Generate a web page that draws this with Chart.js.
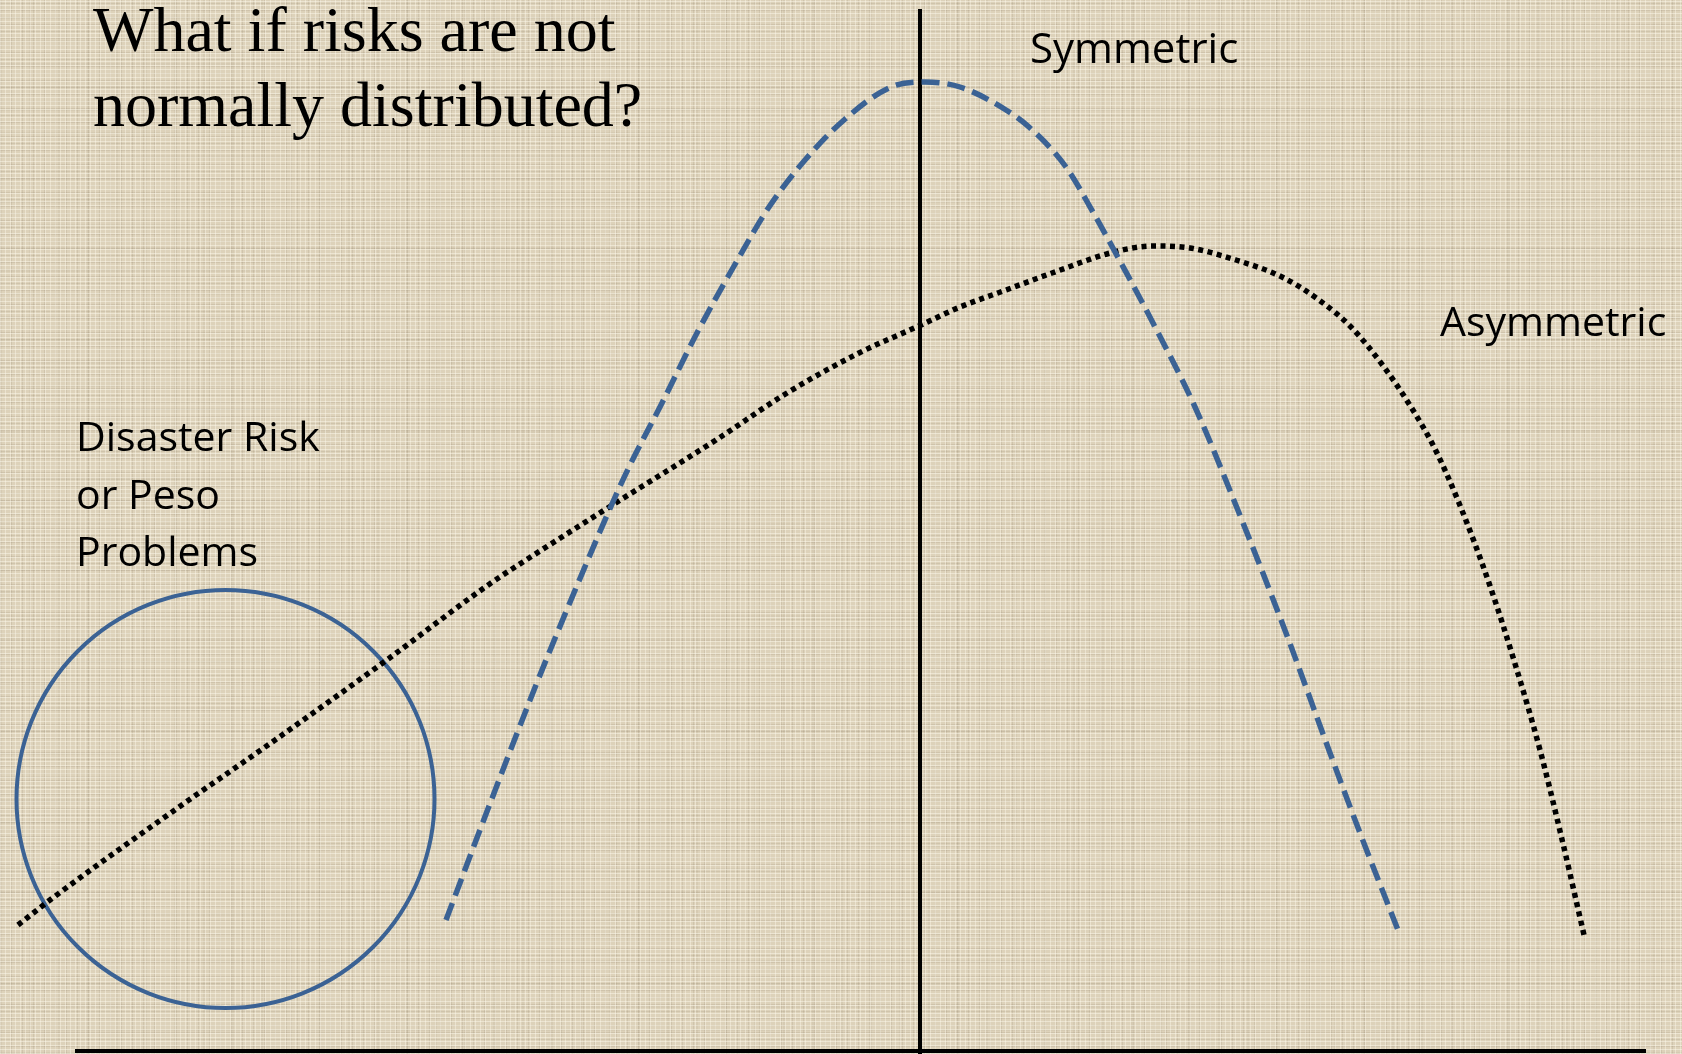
<!DOCTYPE html>
<html>
<head>
<meta charset="utf-8">
<script src="https://cdn.jsdelivr.net/npm/chart.js@4.4.1/dist/chart.umd.min.js"></script>
<style>
  html, body { margin: 0; padding: 0; overflow: hidden; }
  #stage {
    position: relative; width: 1682px; height: 1054px;
    background-color: #DDD2BA;
    background-image:
      repeating-linear-gradient(0deg, rgba(255,251,238,0.45) 0 1px, transparent 1px 4px),
      repeating-linear-gradient(90deg, rgba(255,251,238,0.40) 0 1px, transparent 1px 5px),
      repeating-linear-gradient(0deg, rgba(115,100,75,0.13) 0 1px, transparent 1px 7px),
      repeating-linear-gradient(90deg, rgba(115,100,75,0.13) 0 1px, transparent 1px 11px),
      repeating-linear-gradient(0deg, rgba(130,115,90,0.08) 0 2px, transparent 2px 23px),
      repeating-linear-gradient(90deg, rgba(130,115,90,0.08) 0 2px, transparent 2px 29px);
  }
  #chart { position: absolute; left: 0; top: 0; }
  .lbl { position: absolute; white-space: nowrap; color: #000; margin: 0; }
  .title { font-family: "Liberation Serif", "Times New Roman", serif; font-size: 64px; line-height: 75px; left: 93px; top: -8px; }
  .sans { font-family: "Open Sans", "Noto Sans", sans-serif; }
</style>
</head>
<body>
<div id="stage">
  <canvas id="chart" width="1682" height="1054"></canvas>
  <div class="lbl title">What if risks are not<br>normally distributed?</div>
  <div class="lbl sans" id="symLbl" style="font-size:42px; line-height:60px; left:1030px; top:17px;">Symmetric</div>
  <div class="lbl sans" id="asymLbl" style="font-size:41px; line-height:60px; left:1440px; top:290px;">Asymmetric</div>
  <div class="lbl sans" id="disLbl" style="font-size:41px; line-height:57.5px; left:76px; top:407px;">Disaster Risk<br>or Peso<br>Problems</div>
</div>
<script>
// ---- data (x = return, y = density, arbitrary units) ----
const symmetricX = [-4.74, -4.29, -3.84, -3.44, -3.08, -2.90, -2.58, -2.22, -1.865, -1.51, -1.15, -0.76, -0.29, 0.05, 0.40, 0.86, 1.09, 1.46, 1.735, 1.94, 2.33, 2.75, 3.15, 3.66, 4.10, 4.40, 4.78];
const symmetricY = [1.31, 2.50, 3.66, 4.63, 5.47, 5.86, 6.48, 7.20, 7.84, 8.44, 8.91, 9.31, 9.64, 9.69, 9.64, 9.41, 9.24, 8.84, 8.38, 8.01, 7.28, 6.44, 5.48, 4.18, 2.98, 2.18, 1.21];

const asymmetricX = [-9.02, -8.66, -7.41, -6.52, -5.36, -4.29, -3.94, -3.06, -2.04, -1.33, -0.61, 0.01, 0.40, 0.86, 1.32, 1.94, 2.33, 2.70, 3.16, 3.62, 3.99, 4.31, 4.64, 4.91, 5.14, 5.39, 5.69, 5.96, 6.20, 6.405, 6.64];
const asymmetricY = [1.26, 1.54, 2.44, 3.06, 3.89, 4.68, 4.91, 5.47, 6.11, 6.58, 6.98, 7.26, 7.44, 7.61, 7.78, 7.99, 8.05, 8.03, 7.91, 7.74, 7.51, 7.24, 6.84, 6.44, 6.04, 5.48, 4.68, 3.84, 3.01, 2.18, 1.16];

const verticalAxisX = [0, 0];
const verticalAxisY = [10.42, -0.05];
const horizontalAxisX = [-8.45, 7.26];
const horizontalAxisY = [0, 0];

const disasterCircleX = [-6.945];
const disasterCircleY = [2.52];
const disasterCircleR = [209];

const xRange = [-9.2, 7.62];
const yRange = [-0.03, 10.51];

const pts = (xs, ys) => xs.map((x, i) => ({ x: x, y: ys[i] }));

const BLUE = '#3B6294';

new Chart(document.getElementById('chart'), {
  type: 'scatter',
  data: {
    datasets: [
      {
        type: 'line', label: 'Symmetric',
        data: pts(symmetricX, symmetricY),
        borderColor: BLUE, borderWidth: 5.5, borderDash: [18, 8], borderCapStyle: 'butt',
        cubicInterpolationMode: 'monotone', pointRadius: 0, fill: false, clip: false
      },
      {
        type: 'line', label: 'Asymmetric',
        data: pts(asymmetricX, asymmetricY),
        borderColor: '#000', borderWidth: 5.5, borderDash: [5, 4.5], borderCapStyle: 'butt',
        cubicInterpolationMode: 'monotone', pointRadius: 0, fill: false, clip: false
      },
      {
        type: 'line', label: 'vertical axis',
        data: pts(verticalAxisX, verticalAxisY),
        borderColor: '#000', borderWidth: 4, pointRadius: 0, fill: false, clip: false
      },
      {
        type: 'line', label: 'horizontal axis',
        data: pts(horizontalAxisX, horizontalAxisY),
        borderColor: '#000', borderWidth: 4, pointRadius: 0, fill: false, clip: false
      },
      {
        type: 'bubble', label: 'Disaster Risk',
        data: disasterCircleX.map((x, i) => ({ x: x, y: disasterCircleY[i], r: disasterCircleR[i] })),
        borderColor: BLUE, borderWidth: 4, backgroundColor: 'rgba(0,0,0,0)',
        hoverRadius: 0, clip: false
      }
    ]
  },
  options: {
    responsive: false,
    animation: false,
    events: [],
    layout: { padding: 0, autoPadding: false },
    plugins: { legend: { display: false }, tooltip: { enabled: false }, title: { display: false } },
    scales: {
      x: { type: 'linear', display: false, min: xRange[0], max: xRange[1], grid: { display: false } },
      y: { type: 'linear', display: false, min: yRange[0], max: yRange[1], grid: { display: false } }
    }
  }
});
</script>
</body>
</html>
